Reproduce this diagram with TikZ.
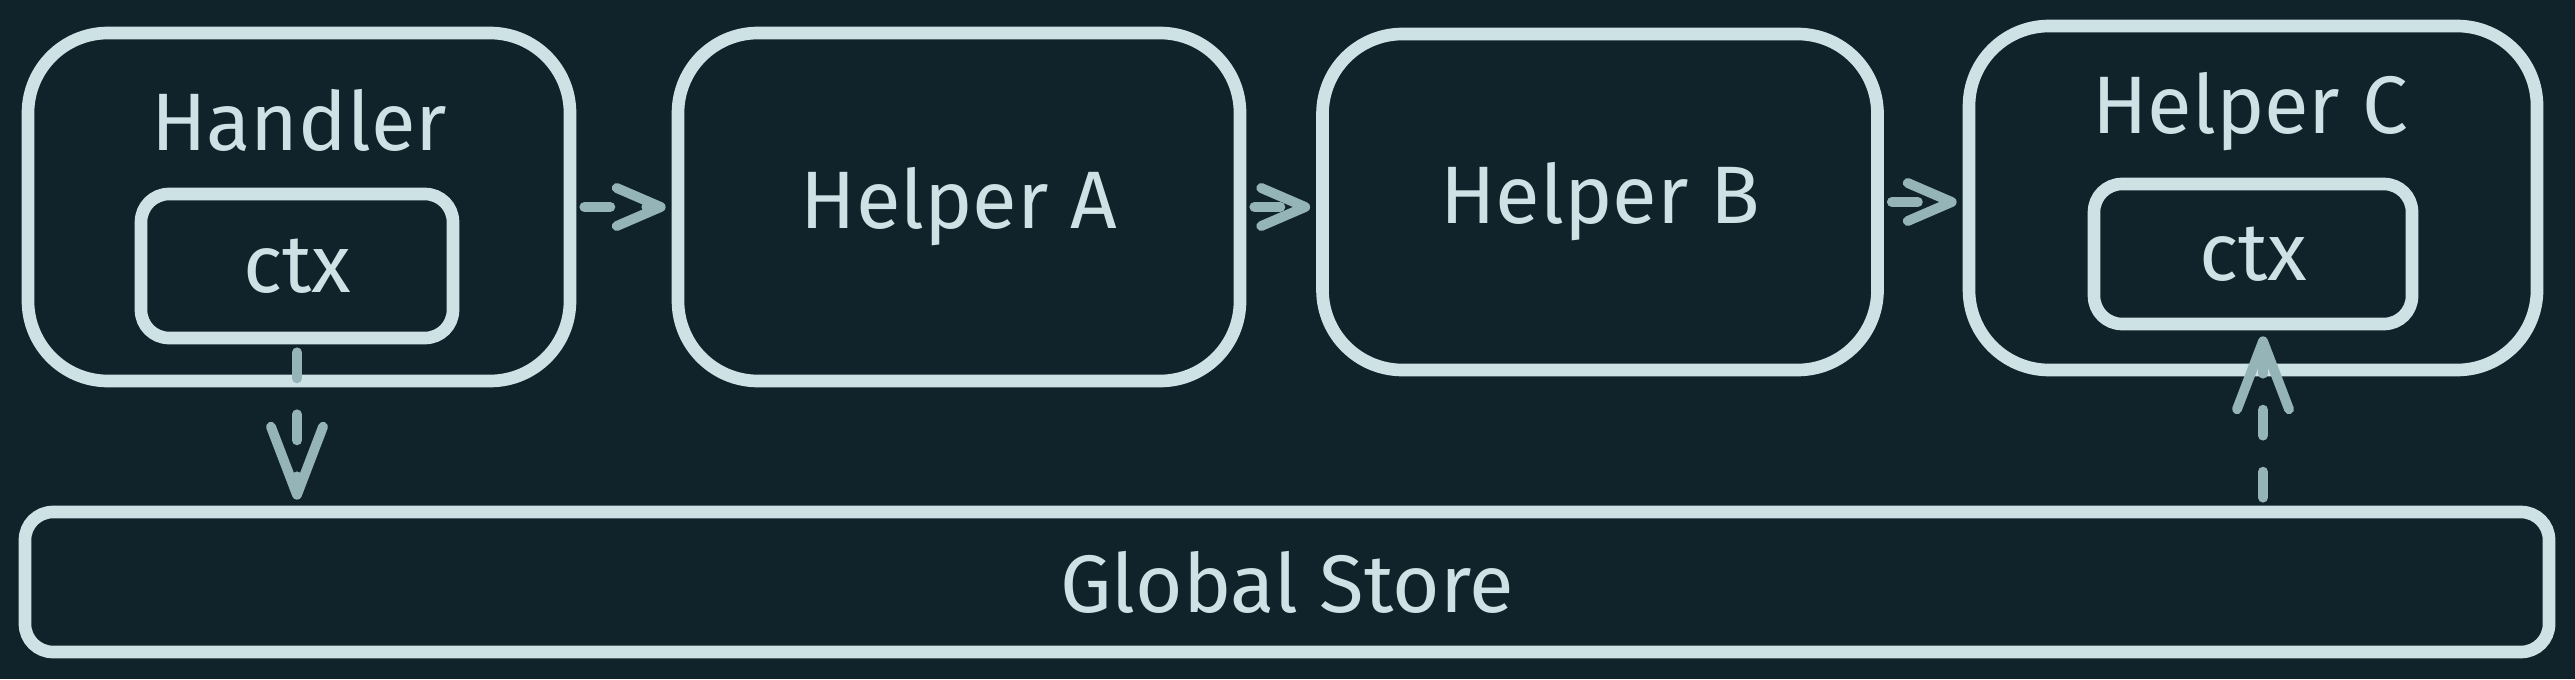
\documentclass[tikz,border=0pt]{standalone}
\usepackage{fontspec}
\setmainfont{Fira Sans}
\usetikzlibrary{arrows.meta}
\definecolor{bgdark}{HTML}{10232A}
\definecolor{chalk}{HTML}{CCE2E5}
\definecolor{flowcol}{HTML}{94B4B7}
\tikzset{
  box/.style={draw=chalk, line width=9pt, rounded corners=20mm, inner sep=0pt, text=chalk, font=\fontsize{58}{60}\selectfont},
  inbox/.style={draw=chalk, line width=9pt, rounded corners=7mm, inner sep=0pt, text=chalk, font=\fontsize{58}{60}\selectfont},
  lbl/.style={text=chalk, font=\fontsize{58}{60}\selectfont},
  flow/.style={draw=flowcol, line width=7pt, line cap=round, dash pattern=on 6.5mm off 9mm,
    -{Straight Barb[length=11mm, width=9.5mm, round]}, shorten >=1.5mm, shorten <=2mm},
  longtip/.style={-{Straight Barb[length=17mm, width=13mm, round]}}
}
\begin{document}
\begin{tikzpicture}[x=0.25mm,y=-0.25mm]
    \fill[bgdark] (0,0) rectangle (2575,679);
    \useasboundingbox (0,0) rectangle (2575,679);

    \node[box, minimum width=135.5mm, minimum height=87mm] (handler) at (299,207) {};
    \node[lbl] (handlertxt) at (299,120) {Handler};
    \node[inbox, minimum width=78mm, minimum height=36mm] (ctxh) at (297,266) {ctx};
    \node[box, minimum width=140.5mm, minimum height=87mm] (helpera) at (959,207) {Helper A};
    \node[box, minimum width=138.75mm, minimum height=84mm] (helperb) at (1600,202) {Helper B};
    \node[box, minimum width=142mm, minimum height=86mm] (helperc) at (2253,198) {};
    \node[lbl] (helperctxt) at (2250,112) {Helper C};
    \node[inbox, minimum width=79.5mm, minimum height=35mm] (ctxc) at (2253,254) {ctx};
    \node[inbox, minimum width=631mm, minimum height=35mm] (store) at (1287,582) {Global Store};

    \draw[flow] (handler.east) -- (handler.east -| helpera.west);
    \draw[flow] (helpera.east) -- (helpera.east -| helperb.west);
    \draw[flow] (helperb.east) -- (helperb.east -| helperc.west);
    \draw[flow, longtip] (ctxh.south) -- (ctxh.south |- store.north);
    \draw[flow, longtip] ([xshift=2.5mm]store.north -| ctxc.south) -- ([xshift=2.5mm]ctxc.south);
\end{tikzpicture}
\end{document}
